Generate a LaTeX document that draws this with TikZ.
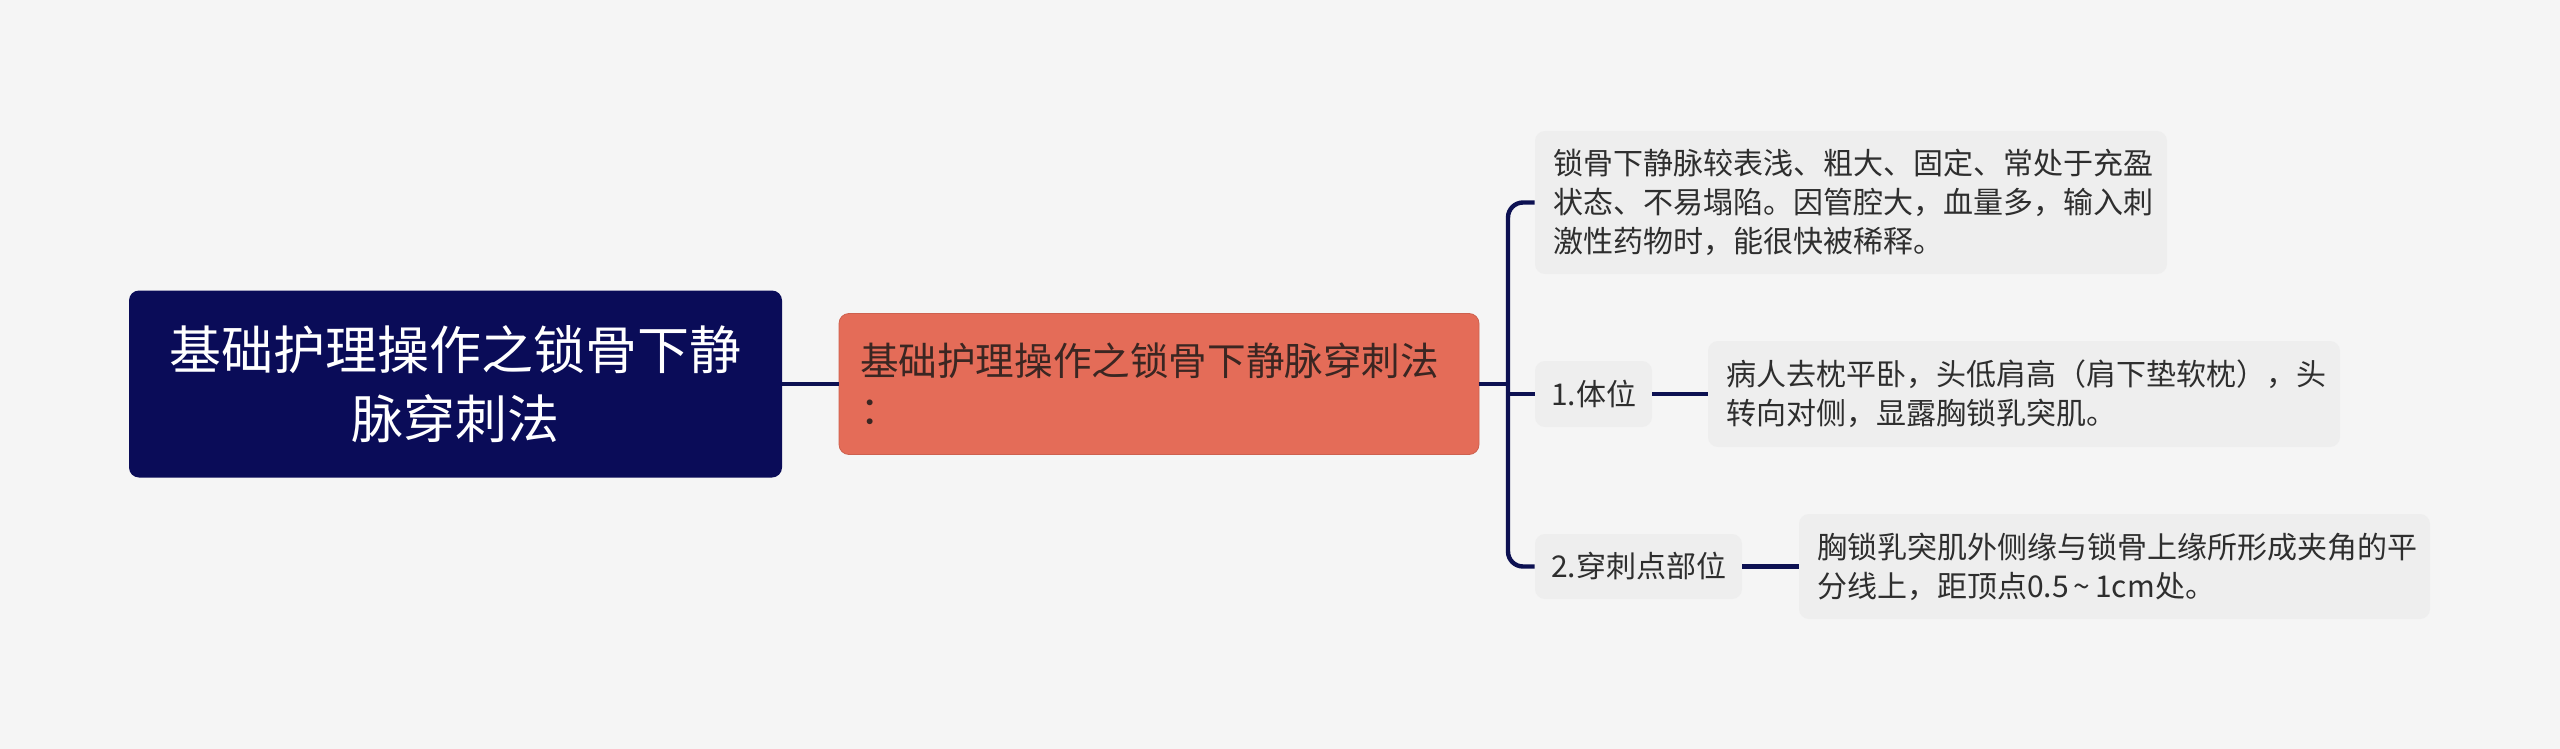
\documentclass[tikz,border=0pt]{standalone}
\usepackage{fontspec}
\newfontfamily\cjk{Noto Sans CJK SC}
\definecolor{bgc}{HTML}{F5F5F5}
\definecolor{rootc}{HTML}{0A0C58}
\definecolor{mainc}{HTML}{E46C58}
\definecolor{leafc}{HTML}{EEEEEE}
\definecolor{linec}{HTML}{0D1152}
\definecolor{txtc}{HTML}{2E2E2E}
\definecolor{maintxt}{HTML}{3A2622}
\begin{document}
\begin{tikzpicture}[x=0.5pt,y=-0.5pt,
  rootbox/.style={fill=rootc, rounded corners=5pt, inner sep=0pt, align=center,
    text=white, font=\cjk\fontsize{26pt}{34.5pt}\selectfont},
  mainbox/.style={fill=mainc, draw=mainc!90!black, line width=0.4pt, rounded corners=5pt, inner xsep=10.5pt, inner ysep=0pt,
    align=left, text=maintxt, font=\cjk\fontsize{19.3pt}{24.5pt}\selectfont},
  leafbox/.style={fill=leafc, rounded corners=5pt, inner xsep=9pt, inner ysep=0pt,
    align=left, text=txtc, font=\cjk\fontsize{15pt}{19.5pt}\selectfont},
  labbox/.style={fill=leafc, rounded corners=5pt, inner sep=0pt,
    align=center, text=txtc, font=\cjk\fontsize{15pt}{19.5pt}\selectfont},
  conn/.style={draw=linec, line width=2.2pt},
]
\fill[bgc] (0,0) rectangle (2560,749);
\useasboundingbox (0,0) rectangle (2560,749);

\node[rootbox, minimum width=326.5pt, minimum height=93.5pt] (root) at (455.5,384)
  {基础护理操作之锁骨下静\\脉穿刺法};
\node[mainbox, minimum width=320pt, minimum height=70.5pt, text width=299pt] (main) at (1159,384)
  {基础护理操作之锁骨下静脉穿刺法\\：};
\node[leafbox, minimum width=316pt, minimum height=71.5pt, text width=298pt] (c1) at (1851,202.5)
  {锁骨下静脉较表浅、粗大、固定、常处于充盈\\状态、不易塌陷。因管腔大，血量多，输入刺\\激性药物时，能很快被稀释。};
\node[labbox, minimum width=58.5pt, minimum height=33pt] (p1) at (1593.5,394) {1.体位};
\node[leafbox, minimum width=316pt, minimum height=53pt, text width=298pt] (c2) at (2024,394)
  {病人去枕平卧，头低肩高（肩下垫软枕），头\\转向对侧，显露胸锁乳突肌。};
\node[labbox, minimum width=103.5pt, minimum height=32.5pt] (p2) at (1638.5,566.5) {2.穿刺点部位};
\node[leafbox, minimum width=315.5pt, minimum height=52.5pt, text width=297.5pt] (c3) at (2114.5,566.5)
  {胸锁乳突肌外侧缘与锁骨上缘所形成夹角的平\\分线上，距顶点0.5\,\char"007E\,1cm处。};

\coordinate (spx) at (1508,384);
\draw[conn] (root.east) -- (main.west);
\draw[conn] (main.east) -- (spx);
\draw[conn, rounded corners=7.5pt] (c1.west) -| (spx |- p2.west) -- (p2.west);
\draw[conn] (p1.west -| spx) -- (p1.west);
\draw[conn] (p1.east) -- (c2.west);
\draw[conn] (p2.east) -- (c3.west);
\end{tikzpicture}
\end{document}
